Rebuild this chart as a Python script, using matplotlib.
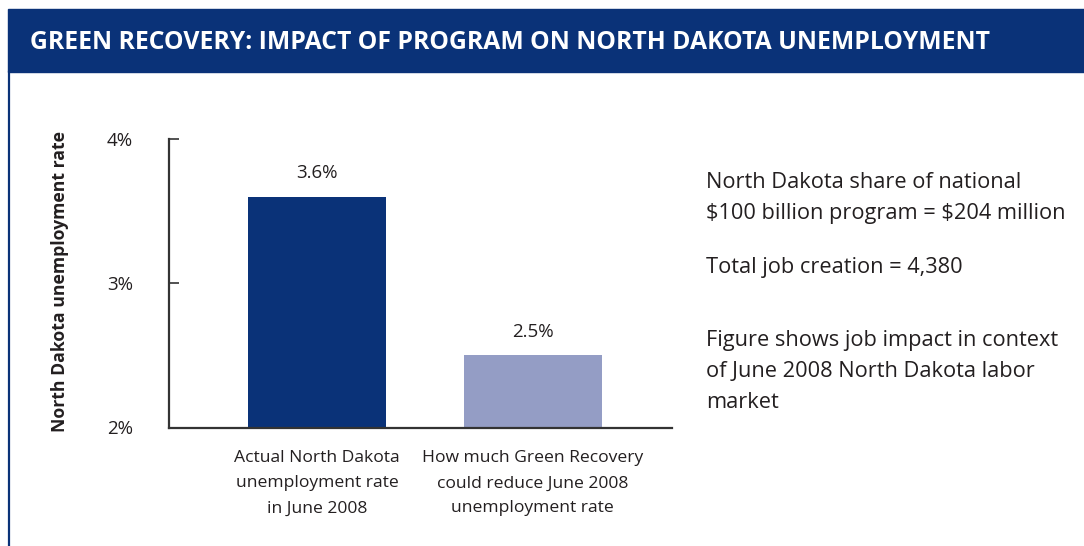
import matplotlib
matplotlib.use("Agg")
import matplotlib.pyplot as plt
from matplotlib.patches import Rectangle
from matplotlib.lines import Line2D

plt.rcParams["text.parse_math"] = False

title = "GREEN RECOVERY: IMPACT OF PROGRAM ON NORTH DAKOTA UNEMPLOYMENT"
categories = ["Actual North Dakota\nunemployment rate\nin June 2008",
              "How much Green Recovery\ncould reduce June 2008\nunemployment rate"]
values = [3.6, 2.5]
bar_labels = ["3.6%", "2.5%"]
yticks = [2, 3, 4]
ytick_labels = ["2%", "3%", "4%"]
ylabel = "North Dakota unemployment rate"
notes = ["North Dakota share of national\n$100 billion program = $204 million",
         "Total job creation = 4,380",
         "Figure shows job impact in context\nof June 2008 North Dakota labor\nmarket"]

DARK = "#0a3278"
LIGHT = "#949dc5"
TXT = "#231f20"
FONT = "Open Sans"

W, H = 1084, 546
fig = plt.figure(figsize=(W / 100, H / 100), dpi=100)
fig.patch.set_facecolor("white")

# header band
fig.patches.append(Rectangle((8 / W, 1 - 72 / H), 1 - 8 / W, 63 / H,
                             transform=fig.transFigure, color=DARK, zorder=0))
fig.lines.append(Line2D([9 / W, 9 / W], [0, 1 - 72 / H], transform=fig.transFigure,
                        color=DARK, lw=1.6))
fig.text(30 / W, 1 - 43 / H, title, color="white", fontsize=17.8, fontweight="bold",
         family=FONT, va="center", ha="left")

ax = fig.add_axes([169 / W, 1 - 427.5 / H, (672 - 169) / W, (427.5 - 139) / H])
x = list(range(len(values)))
ax.bar(x, [v - 2 for v in values], bottom=2, width=0.64, color=[DARK, LIGHT])
ax.set_ylim(2, 4)
ax.set_xlim(-0.687, 1.647)
ax.set_yticks(yticks)
ax.set_yticklabels(ytick_labels, family=FONT, fontsize=13.5, color=TXT)
ax.tick_params(axis="y", direction="in", length=7, width=1.2, color="#333333", pad=26)
ax.set_xticks(x)
ax.set_xticklabels(categories, family=FONT, fontsize=12.6, color=TXT, linespacing=1.75)
ax.tick_params(axis="x", length=0, pad=16.5)
for s in ["top", "right"]:
    ax.spines[s].set_visible(False)
for s in ["left", "bottom"]:
    ax.spines[s].set_color("#333333")
    ax.spines[s].set_linewidth(1.6)
for xi, v, lab in zip(x, values, bar_labels):
    ax.text(xi, v + 0.1, lab, ha="center", va="bottom", family=FONT, fontsize=13.5, color=TXT)

fig.text(60 / W, 1 - 281 / H, ylabel, rotation=90, ha="center", va="center",
         family=FONT, fontsize=12.7, fontweight="bold", color=TXT)

fig.text(706 / W, 1 - 198 / H, notes[0], ha="left", va="center", family=FONT,
         fontsize=15.7, color=TXT, linespacing=1.6)
fig.text(706 / W, 1 - 268 / H, notes[1], ha="left", va="center", family=FONT,
         fontsize=15.7, color=TXT)
fig.text(706 / W, 1 - 371.5 / H, notes[2], ha="left", va="center", family=FONT,
         fontsize=15.7, color=TXT, linespacing=1.62)

fig.savefig("out.png", dpi=100)
